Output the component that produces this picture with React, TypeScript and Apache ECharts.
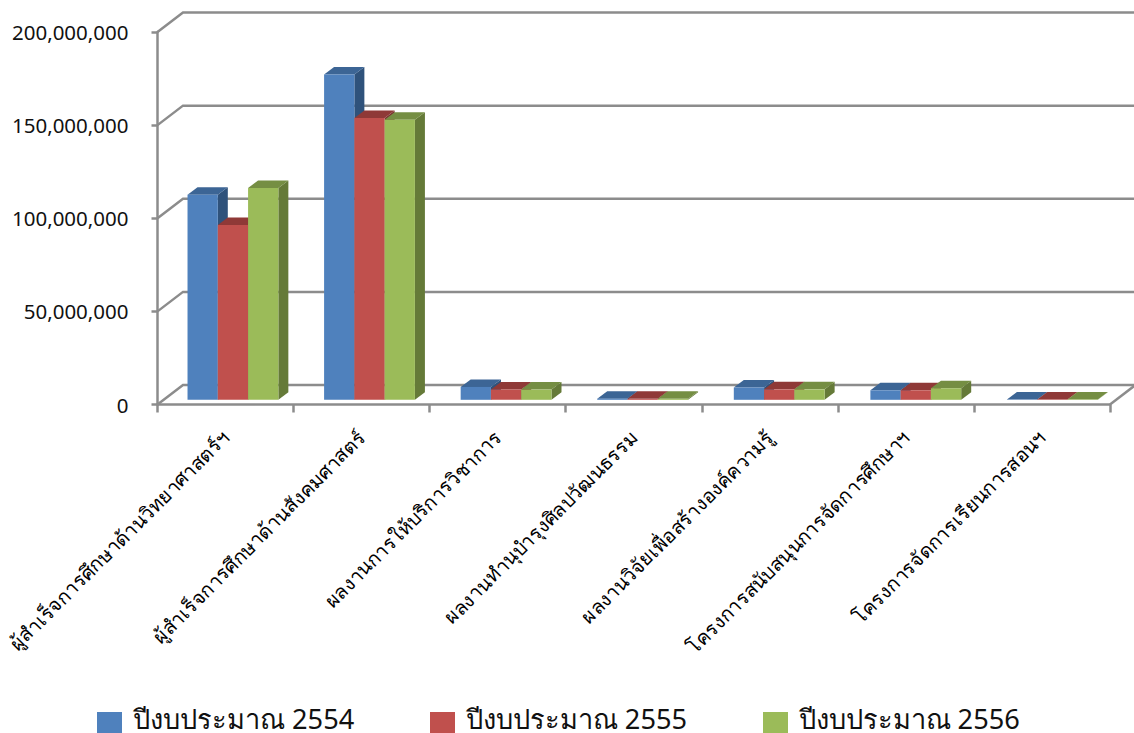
import React, { useEffect, useRef } from "react";
import * as echarts from "echarts";

const categories = [
  "ผู้สำเร็จการศึกษาด้านวิทยาศาสตร์ฯ",
  "ผู้สำเร็จการศึกษาด้านสังคมศาสตร์",
  "ผลงานการให้บริการวิชาการ",
  "ผลงานทำนุบำรุงศิลปวัฒนธรรม",
  "ผลงานวิจัยเพื่อสร้างองค์ความรู้",
  "โครงการสนับสนุนการจัดการศึกษาฯ",
  "โครงการจัดการเรียนการสอนฯ",
];
const values2554 = [110100000, 174600000, 6900000, 600000, 6600000, 5100000, 200000];
const values2555 = [93800000, 151300000, 5500000, 500000, 5600000, 5100000, 200000];
const values2556 = [113700000, 150300000, 5500000, 500000, 5600000, 6200000, 200000];
const gridValues = [0, 50000000, 100000000, 150000000, 200000000];
const seriesNames = ["ปีงบประมาณ 2554", "ปีงบประมาณ 2555", "ปีงบประมาณ 2556"];
const fronts = ["#4F81BD", "#C0504D", "#9BBB59"];
const tops = ["#3C6595", "#8F3937", "#758E43"];
const sides = ["#2F527B", "#7A3230", "#657A38"];

const DEPTH_X = 25.5;
const DEPTH_Y = 19.5;
const BAR_DX = 10;
const BAR_DY = 7.5;
const FLOOR_X = 7.4;
const FLOOR_Y = 4.7;
const SKEW_X = 0.5;
const FONT = "'Noto Sans', 'Open Sans', sans-serif";
const GREY = "#8C8C8C";

function barRenderer(idx: number) {
  return (params: any, api: any) => {
    const cs = params.coordSys;
    const slot = cs.width / categories.length;
    const w = slot * 0.2225;
    const [cx, base] = api.coord([api.value(0), 0]);
    const [, top] = api.coord([api.value(0), api.value(1)]);
    const x0 = cx - 1.5 * w + idx * w + FLOOR_X + api.value(0) * SKEW_X;
    const x1 = x0 + w;
    const b = base - FLOOR_Y;
    const t = top - FLOOR_Y;
    return {
      type: "group",
      children: [
        {
          type: "polygon",
          shape: { points: [[x1, t], [x1 + BAR_DX, t - BAR_DY], [x1 + BAR_DX, b - BAR_DY], [x1, b]] },
          style: { fill: sides[idx] },
        },
        {
          type: "polygon",
          shape: { points: [[x0, t], [x0 + BAR_DX, t - BAR_DY], [x1 + BAR_DX, t - BAR_DY], [x1, t]] },
          style: { fill: tops[idx] },
        },
        { type: "rect", shape: { x: x0, y: t, width: w, height: b - t }, style: { fill: fronts[idx] } },
      ],
    };
  };
}

function wallRenderer(params: any, api: any) {
  const cs = params.coordSys;
  const v = api.value(1);
  const [, y] = api.coord([0, v]);
  const xl = cs.x;
  const xr = cs.x + cs.width;
  const children: any[] = [
    {
      type: "polyline",
      shape: { points: [[xl, y], [xl + DEPTH_X, y - DEPTH_Y], [xr + DEPTH_X, y - DEPTH_Y]] },
      style: { stroke: GREY, lineWidth: 2.5, fill: "none" },
    },
  ];
  if (v === 0) {
    children.push({
      type: "line",
      shape: { x1: xr, y1: y, x2: xr + DEPTH_X, y2: y - DEPTH_Y },
      style: { stroke: GREY, lineWidth: 2.5 },
    });
  }
  return { type: "group", children };
}

export default function App() {
  const ref = useRef<HTMLDivElement>(null);
  useEffect(() => {
    const chart = echarts.init(ref.current!, undefined, { renderer: "svg" });
    const valueSets = [values2554, values2555, values2556];
    chart.setOption({
      animation: false,
      backgroundColor: "#fff",
      grid: { left: 157.5, right: 24, top: 32, bottom: 328.5, containLabel: false },
      legend: [
        {
          left: 92,
          top: 707,
          data: seriesNames,
          selectedMode: false,
          icon: "rect",
          itemWidth: 25,
          itemHeight: 21,
          itemGap: 308,
          formatter: () => "",
        },
        {
          left: 123,
          top: 700,
          data: seriesNames,
          selectedMode: false,
          icon: "none",
          itemWidth: 0,
          itemHeight: 21,
          itemGap: 106.5,
          textStyle: { fontFamily: FONT, fontSize: 27.2, color: "#111" },
        },
      ],
      xAxis: {
        type: "category",
        data: categories,
        axisLine: { lineStyle: { color: GREY, width: 2.5 } },
        axisTick: { show: true, length: 8, lineStyle: { color: GREY, width: 2.5 } },
        axisLabel: { interval: 0, rotate: 45, margin: 29, fontFamily: FONT, fontSize: 19.7, color: "#000" },
      },
      yAxis: {
        type: "value",
        min: 0,
        max: 200000000,
        interval: 50000000,
        axisLine: { show: true, lineStyle: { color: GREY, width: 2.5 } },
        axisTick: { show: true, length: 6, lineStyle: { color: GREY, width: 2.5 } },
        splitLine: { show: false },
        axisLabel: {
          margin: 29,
          fontFamily: FONT,
          fontSize: 20.5,
          color: "#111",
          formatter: (v: number) => v.toLocaleString("en-US"),
        },
      },
      series: [
        {
          type: "custom",
          name: "walls",
          renderItem: wallRenderer,
          data: gridValues.map((v) => [0, v]),
          silent: true,
          z: 1,
        },
        ...valueSets.map((vals, i) => ({
          type: "custom",
          name: seriesNames[i],
          renderItem: barRenderer(i),
          itemStyle: { color: fronts[i] },
          encode: { x: 0, y: 1 },
          data: vals.map((v, c) => [c, v]),
          z: 3 + i,
        })),
      ],
    });
    return () => chart.dispose();
  }, []);
  return <div ref={ref} style={{ position: "absolute", left: 0, top: 0, width: 1134, height: 733 }} />;
}
